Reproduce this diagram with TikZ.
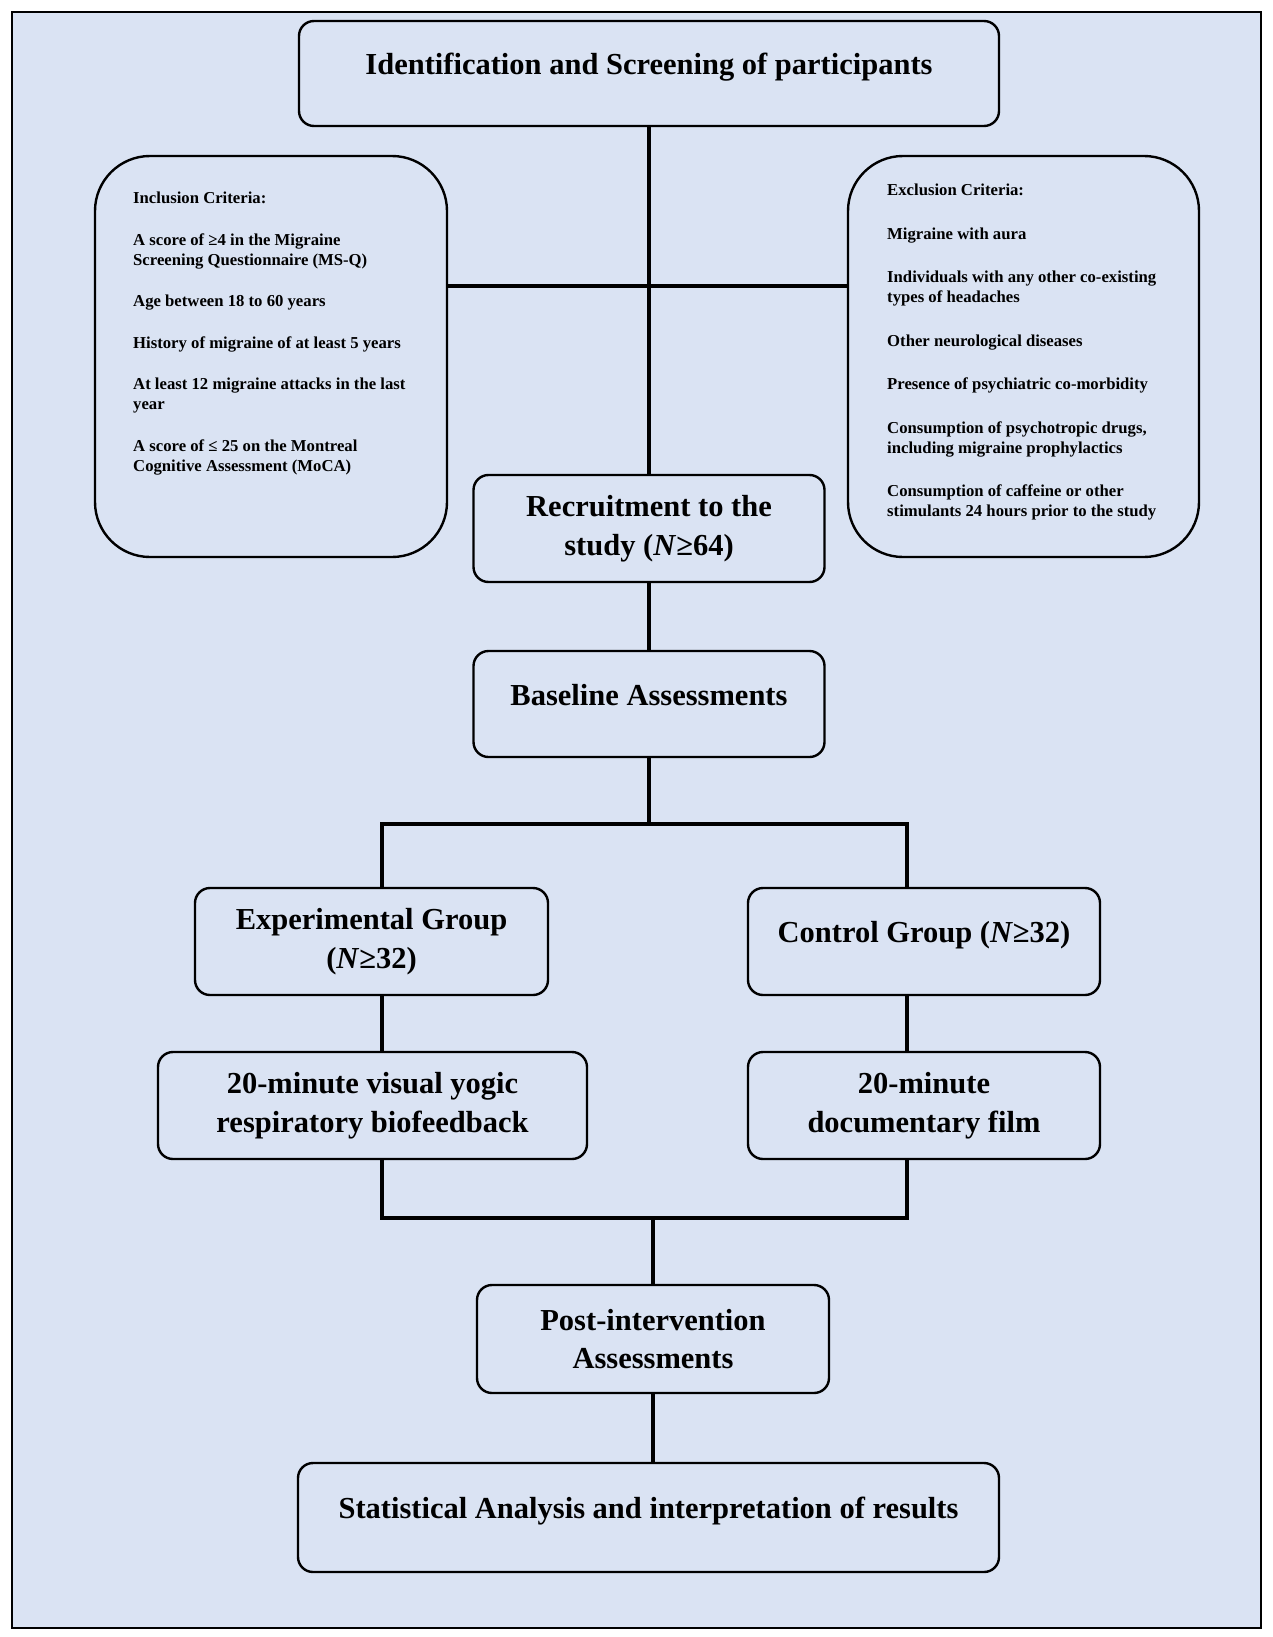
\documentclass[tikz,border=0pt]{standalone}
\usepackage{fontspec}
\setmainfont{Liberation Serif}
\usetikzlibrary{positioning,calc}
\definecolor{panelblue}{RGB}{218,227,243}
\newcommand{\ingap}{\\[21.5pt]}
\newcommand{\exgap}{\\[23.5pt]}

\begin{document}
\begin{tikzpicture}[x=1pt, y=1pt,
  box/.style={draw, line width=2.4pt, rounded corners=15pt, align=center, inner sep=0pt, outer sep=0pt,
    font=\fontsize{30.5}{38.5}\selectfont\bfseries},
  onerow/.style={text height=21pt, text depth=19pt},
  critbox/.style={draw, line width=2.4pt, rounded corners=55pt, outer sep=0pt, minimum width=352pt, minimum height=401pt},
  crittext/.style={align=left, inner sep=0pt, font=\fontsize{16.7}{20}\selectfont\bfseries},
  link/.style={line width=3.6pt},
]
\fill[white] (0,0) rectangle (1272,-1637);
\draw[line width=2.5pt, fill=panelblue] (12,-12) rectangle (1261,-1628);
\useasboundingbox (0,0) rectangle (1272,-1637);

\node[box, onerow, minimum width=700pt, minimum height=105pt] (ident) at (649,-73.5) {Identification and Screening of participants};
\node[box, minimum width=351pt, minimum height=107pt, below=349pt of ident] (recruit) {Recruitment to the\\study (\textit{N}≥64)};
\node[box, onerow, minimum width=351pt, minimum height=106pt, below=69pt of recruit] (baseline) {Baseline Assessments};
\node[box, minimum width=353pt, minimum height=107pt, below=131pt of baseline, xshift=-277.5pt] (expgrp) {Experimental Group\\(\textit{N}≥32)};
\node[box, onerow, minimum width=352pt, minimum height=107pt, below=131pt of baseline, xshift=275pt] (ctrlgrp) {Control Group (\textit{N}≥32)};
\node[box, minimum width=429pt, minimum height=107pt, below=57pt of expgrp, xshift=1pt] (yogic) {20-minute visual yogic\\respiratory biofeedback};
\node[box, minimum width=352pt, minimum height=107pt, below=57pt of ctrlgrp] (docu) {20-minute\\documentary film};
\node[box, minimum width=352pt, minimum height=108pt, below=528pt of baseline, xshift=4pt] (post) {Post-intervention\\Assessments};
\node[box, onerow, minimum width=701pt, minimum height=109pt, below=70pt of post, xshift=-4.5pt] (stat) {Statistical Analysis and interpretation of results};

\node[critbox] (incl) at (271,-356.5) {};
\node[critbox, minimum width=351pt] (excl) at (1023.5,-356.5) {};
\node[crittext, below right=36pt and 38pt of incl.north west] (incltext) {Inclusion Criteria:\ingap
  A score of ≥4 in the Migraine\\Screening Questionnaire (MS-Q)\ingap
  Age between 18 to 60 years\ingap
  History of migraine of at least 5 years\ingap
  At least 12 migraine attacks in the last\\year\ingap
  A score of ≤ 25 on the Montreal\\Cognitive Assessment (MoCA)};
\node[crittext, below right=28pt and 39pt of excl.north west] (excltext) {Exclusion Criteria:\exgap
  Migraine with aura\exgap
  Individuals with any other co-existing\\types of headaches\exgap
  Other neurological diseases\exgap
  Presence of psychiatric co-morbidity\exgap
  Consumption of psychotropic drugs,\\including migraine prophylactics\exgap
  Consumption of caffeine or other\\stimulants 24 hours prior to the study};

\coordinate (cross) at ($(ident.south)!0.458!(recruit.north)$);
\draw[link] (ident) -- (recruit);
\draw[link] (incl.east |- cross) -- (excl.west |- cross);
\draw[link] (recruit) -- (baseline);
\coordinate (split) at ($(baseline.south)+(0,-67pt)$);
\draw[link] (baseline.south) -- (split);
\coordinate (splitL) at ($(expgrp.north |- split)+(10.5pt,0)$);
\coordinate (splitR) at ($(ctrlgrp.north |- split)+(-17pt,0)$);
\draw[link] (splitL |- expgrp.north) -- (splitL) -- (splitR) -- (splitR |- ctrlgrp.north);
\draw[link] (splitL |- expgrp.south) -- (splitL |- yogic.north);
\draw[link] (splitR |- ctrlgrp.south) -- (splitR |- docu.north);
\coordinate (joinL) at ($(splitL |- yogic.south)+(0,-59pt)$);
\coordinate (joinR) at (splitR |- joinL);
\draw[link] (splitL |- yogic.south) -- (joinL) -- (joinR) -- (splitR |- docu.south);
\draw[link] (post.north |- joinL) -- (post);
\draw[link] (post) -- (post.south |- stat.north);
\end{tikzpicture}
\end{document}
